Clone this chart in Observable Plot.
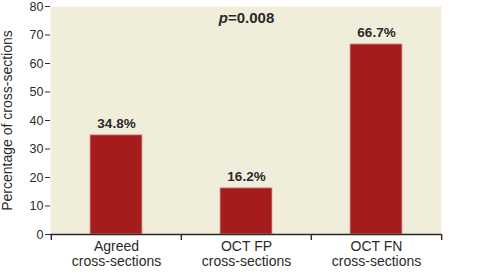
<!DOCTYPE html>
<html><head><meta charset="utf-8">
<script src="https://cdn.jsdelivr.net/npm/d3@7"></script>
<script src="https://cdn.jsdelivr.net/npm/@observablehq/plot@0.6"></script>
<style>body{margin:0;background:#fff}</style>
</head><body><div id="chart"></div>
<script>
const categories = ["Agreed\ncross-sections", "OCT FP\ncross-sections", "OCT FN\ncross-sections"];
const values = [34.8, 16.2, 66.7];
const valueLabels = ["34.8%", "16.2%", "66.7%"];
const yTicks = [0, 10, 20, 30, 40, 50, 60, 70, 80];
const pText = "p=0.008";
const yLabel = "Percentage of cross-sections";

const data = categories.map((c, i) => ({category: c, value: values[i], label: valueLabels[i]}));

const W = 502, H = 278, ml = 50, mr = 61, mt = 6, mb = 44;
const step = (W - ml - mr) / categories.length;
const ink = "#2a2a2a";
const barColor = "#a61c1c";
const bg = "#f1eddb";

const chart = Plot.plot({
  width: W, height: H,
  marginLeft: ml, marginRight: mr, marginTop: mt, marginBottom: mb,
  style: {fontFamily: "'Liberation Sans', Arial, sans-serif", fontSize: "14px", color: ink, background: "#fff"},
  x: {domain: categories, paddingInner: 0.6, paddingOuter: 0.3},
  y: {domain: [0, 80]},
  marks: [
    Plot.frame({fill: bg, stroke: null}),
    Plot.barY(data, {x: "category", y: "value", fill: barColor, stroke: "#d6a59c", strokeWidth: 0.8}),
    Plot.ruleY([0], {stroke: ink, strokeWidth: 1.6}),
    Plot.ruleX(categories, {x: d => d, y1: 0, y2: 0, insetBottom: -6, dx: -step / 2, stroke: ink, strokeWidth: 1.4}),
    Plot.ruleX(categories.slice(-1), {x: d => d, y1: 0, y2: 0, insetBottom: -6, dx: step / 2, stroke: ink, strokeWidth: 1.4}),
    Plot.axisY({ticks: yTicks, tickSize: 5, tickPadding: 2, fontSize: 12.5, stroke: ink, label: null}),
    Plot.ruleX([0], {frameAnchor: "left", y1: 80, y2: 0, stroke: ink, strokeWidth: 1.6}),
    Plot.axisX({tickSize: 0, tickPadding: 5, fontSize: 14, lineHeight: 1.12, label: null}),
    Plot.text([yLabel], {frameAnchor: "left", textAnchor: "middle", lineAnchor: "top", rotate: -90, dx: -48, fontSize: 14, text: d => d}),
    Plot.text(data, {x: "category", y: "value", text: "label", lineAnchor: "bottom", dy: -7,
      fontWeight: "bold", fontSize: 13.5}),
    Plot.text([pText], {x: () => categories[1], frameAnchor: "top", lineAnchor: "bottom", dy: 16, text: d => d,
      fontWeight: "bold", fontSize: 15})
  ]
});

// italicise the "p" in the p-value label
d3.select(chart).selectAll("text").each(function() {
  if (this.textContent === pText) {
    const t = d3.select(this);
    t.text(null);
    t.append("tspan").attr("font-style", "italic").text(pText.slice(0, 1));
    t.append("tspan").text(pText.slice(1));
  }
});

document.getElementById("chart").appendChild(chart);
</script>
</body></html>
